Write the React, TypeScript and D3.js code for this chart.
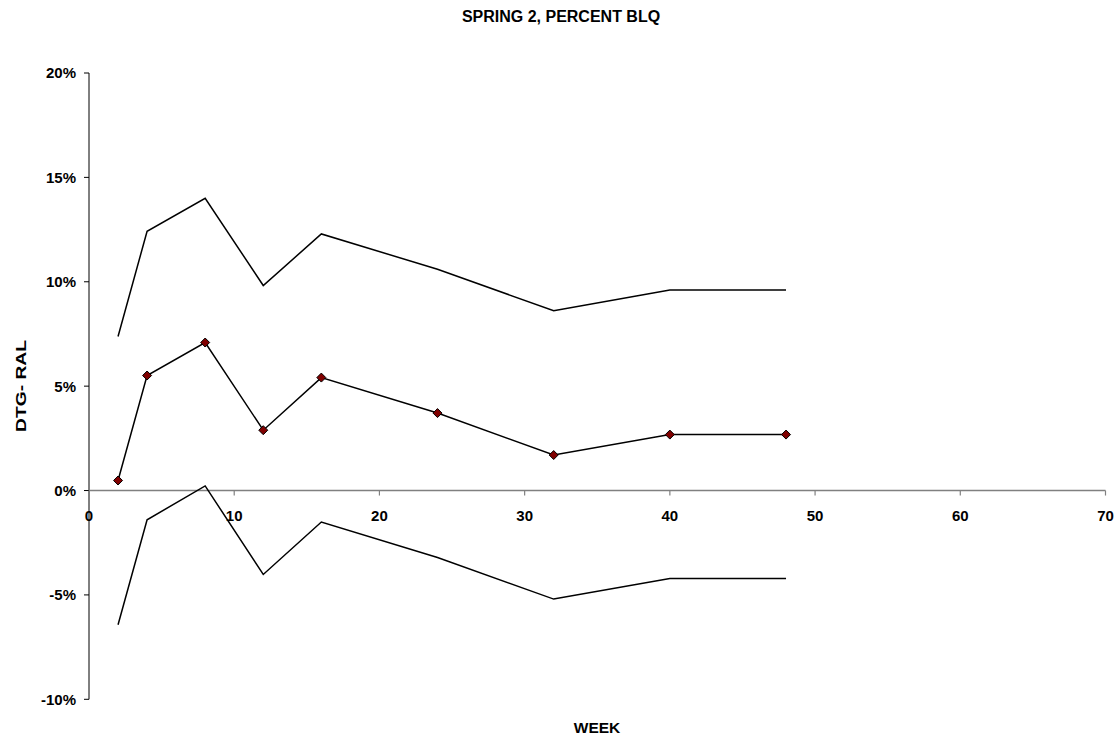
import React from "react";
import * as d3 from "d3";

const weeks = [2, 4, 8, 12, 16, 24, 32, 40, 48];
const estimate = [0.0048, 0.0551, 0.0709, 0.0289, 0.0541, 0.0371, 0.017, 0.0268, 0.0268];
const upperCI = [0.0738, 0.1242, 0.14, 0.0982, 0.1229, 0.106, 0.0861, 0.0961, 0.0961];
const lowerCI = [-0.0643, -0.014, 0.0022, -0.0402, -0.0151, -0.0321, -0.052, -0.0421, -0.0421];
const xTicks = [0, 10, 20, 30, 40, 50, 60, 70];
const yTicks = [-0.1, -0.05, 0, 0.05, 0.1, 0.15, 0.2];

const title = "SPRING 2, PERCENT BLQ";
const xTitle = "WEEK";
const yTitle = "DTG- RAL";

export default function App() {
  const W = 1118;
  const H = 740;
  const x = d3.scaleLinear().domain([0, 70]).range([89, 1105.5]);
  const y = d3.scaleLinear().domain([-0.1, 0.2]).range([699.3, 73]);
  const font = "'Liberation Sans', Arial, sans-serif";
  const pct = (t: number) => d3.format(".0%")(t).replace("\u2212", "-");

  const line = d3
    .line<number>()
    .x((_, i) => x(weeks[i]))
    .y((d) => y(d));

  const diamond = (cx: number, cy: number, r: number) =>
    `M${cx},${cy - r}L${cx + r},${cy}L${cx},${cy + r}L${cx - r},${cy}Z`;

  return (
    <svg
      width={W}
      height={H}
      style={{ position: "absolute", left: 0, top: 0, background: "#fff" }}
      fontFamily={font}
      fontWeight="bold"
    >
      <rect x={0} y={0} width={W} height={H} fill="#fff" />
      <text x={561} y={21.5} textAnchor="middle" fontSize={16}>
        {title}
      </text>

      {/* y axis */}
      <line x1={x(0)} x2={x(0)} y1={y(0.2)} y2={y(-0.1)} stroke="#000" strokeWidth={1} />
      {yTicks.map((t) => (
        <g key={t}>
          <line x1={x(0) - 5} x2={x(0)} y1={y(t)} y2={y(t)} stroke="#000" />
          <text x={76} y={y(t)} dy="0.36em" textAnchor="end" fontSize={15}>
            {pct(t)}
          </text>
        </g>
      ))}

      {/* x axis at 0 */}
      <line x1={x(0)} x2={x(70)} y1={y(0)} y2={y(0)} stroke="#808080" strokeWidth={1.5} />
      {xTicks.map((t) => (
        <g key={t}>
          <line x1={x(t)} x2={x(t)} y1={y(0)} y2={y(0) + 5} stroke="#808080" strokeWidth={1.2} />
          <text x={x(t)} y={521} textAnchor="middle" fontSize={15}>
            {t}
          </text>
        </g>
      ))}

      <text x={597} y={733} textAnchor="middle" fontSize={15.5}>
        {xTitle}
      </text>
      <text
        transform={`translate(26,386) rotate(-90)`}
        textAnchor="middle"
        fontSize={15}
        textLength={92}
        lengthAdjust="spacingAndGlyphs"
      >
        {yTitle}
      </text>

      <path d={line(upperCI) || ""} fill="none" stroke="#000" strokeWidth={1.5} />
      <path d={line(lowerCI) || ""} fill="none" stroke="#000" strokeWidth={1.5} />
      <path d={line(estimate) || ""} fill="none" stroke="#000" strokeWidth={1.5} />
      {estimate.map((v, i) => (
        <path
          key={i}
          d={diamond(x(weeks[i]), y(v), 4.5)}
          fill="#800000"
          stroke="#000"
          strokeWidth={1}
        />
      ))}
    </svg>
  );
}
